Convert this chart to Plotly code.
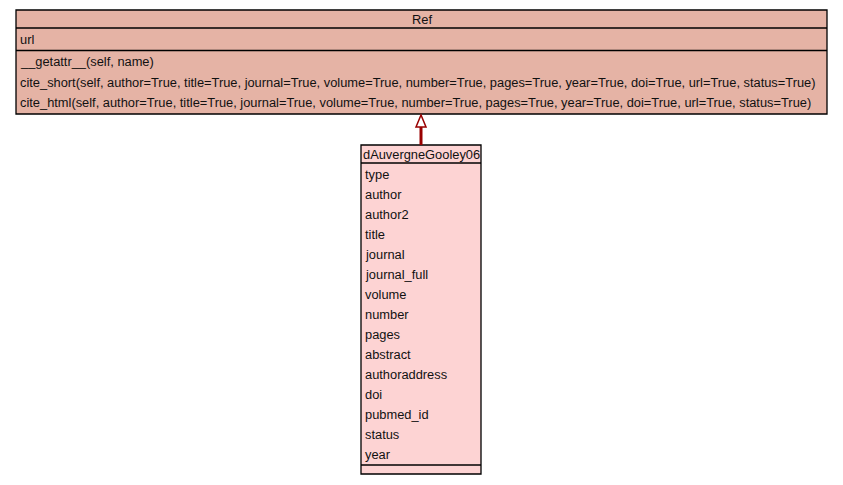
import plotly.graph_objects as go

# class diagram content
parent_name = "Ref"
parent_attrs = ["url"]
parent_methods = [
    "__getattr__(self, name)",
    "cite_short(self, author=True, title=True, journal=True, volume=True, number=True, pages=True, year=True, doi=True, url=True, status=True)",
    "cite_html(self, author=True, title=True, journal=True, volume=True, number=True, pages=True, year=True, doi=True, url=True, status=True)",
]
child_name = "dAuvergneGooley06"
child_attrs = ["type", "author", "author2", "title", "journal", "journal_full", "volume",
               "number", "pages", "abstract", "authoraddress", "doi", "pubmed_id", "status", "year"]
child_methods = []

W, H = 843, 485
OFF = 8  # page body margin
FONT = dict(family="Liberation Sans, Arial, sans-serif", size=12.85, color="#111111")
EDGE = "#990000"

shapes = []
annots = []


def rect(x0, y0, x1, y1, fill):
    shapes.append(dict(type="rect", x0=x0, y0=y0, x1=x1, y1=y1, fillcolor=fill,
                       line=dict(color="black", width=1.3), layer="below"))


def hline(x0, x1, y):
    shapes.append(dict(type="line", x0=x0, x1=x1, y0=y, y1=y, line=dict(color="black", width=1.3)))


def text(x, y, s, anchor="left"):
    annots.append(dict(x=x, y=y, text=s, showarrow=False, xanchor=anchor, yanchor="middle",
                       font=FONT, xref="x", yref="y"))


def draw_class(x0, x1, y0, name, attrs, methods, fill, head_h, row_h, attr_pad, meth_pad):
    y = y0 + head_h
    text((x0 + x1) / 2, y0 + head_h / 2, name, "center")
    sep1 = y
    y += attr_pad
    for a in attrs:
        text(x0 + 2, y + row_h / 2, a)
        y += row_h
    y += attr_pad
    sep2 = y
    y += meth_pad
    for m in methods:
        text(x0 + 2, y + row_h / 2, m)
        y += row_h
    y += meth_pad if methods else 8
    rect(x0, y0, x1, y, fill)
    hline(x0, x1, sep1)
    hline(x0, x1, sep2)
    return y


draw_class(16, 827, 10, parent_name, parent_attrs, parent_methods, "#e5b3a5", 18, 20.5, 1, 1)
draw_class(361, 481, 145, child_name, child_attrs, child_methods, "#fdd3d3", 18, 20, 1, 1)

# inheritance arrow: hollow triangle pointing at parent
ax = 421
shapes.append(dict(type="line", x0=ax, x1=ax, y0=145, y1=127, line=dict(color=EDGE, width=3)))
shapes.append(dict(type="path", path=f"M {ax} 115 L {ax-5} 127 L {ax+5} 127 Z",
                   fillcolor="white", line=dict(color=EDGE, width=1.5)))

fig = go.Figure()
fig.update_layout(
    width=W, height=H, margin=dict(l=0, r=0, t=0, b=0),
    paper_bgcolor="white", plot_bgcolor="white", showlegend=False,
    xaxis=dict(range=[OFF, W + OFF], visible=False, fixedrange=True),
    yaxis=dict(range=[H + OFF, OFF], visible=False, fixedrange=True),
    shapes=shapes, annotations=annots,
)
fig.write_html("out.html")
